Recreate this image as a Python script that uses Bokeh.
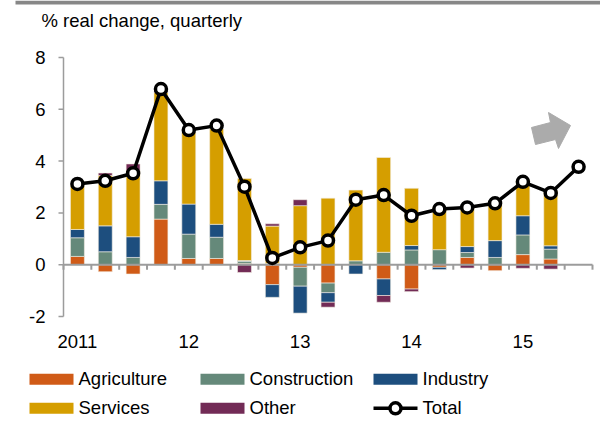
import numpy as np
from bokeh.plotting import figure
from bokeh.core.properties import value
from bokeh.embed import file_html
from bokeh.resources import INLINE

# ---------------- data ----------------
quarters = ["2011Q1", "2011Q2", "2011Q3", "2011Q4", "2012Q1", "2012Q2", "2012Q3", "2012Q4",
            "2013Q1", "2013Q2", "2013Q3", "2013Q4", "2014Q1", "2014Q2", "2014Q3", "2014Q4",
            "2015Q1", "2015Q2", "2015Q3"]
year_ticks = [0, 4, 8, 12, 16]
year_labels = ["2011", "12", "13", "14", "15"]
y_ticks = [-2, 0, 2, 4, 6, 8]
y_tick_labels = ["-2", "0", "2", "4", "6", "8"]

agriculture = [0.32, -0.27, -0.36, 1.76, 0.24, 0.24, 0.05, -0.77, -0.10, -0.71, 0.00, -0.55,
               -0.94, -0.10, 0.28, -0.23, 0.39, 0.22]
construction = [0.72, 0.50, 0.28, 0.57, 0.94, 0.82, 0.08, 0.05, -0.73, -0.37, 0.15, 0.48,
                0.57, 0.58, 0.19, 0.28, 0.76, 0.38]
industry = [0.32, 1.00, 0.80, 0.91, 1.16, 0.50, 0.03, -0.49, -1.04, -0.37, -0.36, -0.64,
            0.17, -0.09, 0.23, 0.65, 0.74, 0.13]
services = [1.70, 1.94, 2.55, 3.41, 2.77, 3.68, 3.17, 1.44, 2.28, 2.57, 2.73, 3.66,
            2.21, 1.63, 1.57, 1.52, 1.36, 2.13]
other = [0.00, 0.10, 0.26, 0.08, 0.00, 0.00, -0.30, 0.09, 0.23, -0.19, 0.00, -0.26,
         -0.10, 0.00, -0.13, 0.00, -0.14, -0.17]
total = [3.12, 3.24, 3.53, 6.78, 5.20, 5.37, 3.01, 0.26, 0.67, 0.93, 2.51, 2.69,
         1.89, 2.15, 2.21, 2.37, 3.20, 2.77, 3.78]

series_names = ["Agriculture", "Construction", "Industry", "Services", "Other"]
series_colors = ["#D05B17", "#65897A", "#1D4E7E", "#D59E00", "#722B56"]
title_text = "% real change, quarterly"

# ---------------- layout constants (page pixels) ----------------
W, H = 600, 422
FRAME_L, FRAME_R, FRAME_T, FRAME_B = 63, 592, 57, 316   # plot area of the chart
Y0, Y1 = -2, 8
GRAY = "#9C9C9C"
FONT = value("Liberation Sans")
FS = value("18.5px")

n = len(total)
nb = len(agriculture)
PX_X = (FRAME_R - FRAME_L) / n
PX_Y = (FRAME_B - FRAME_T) / (Y1 - Y0)
x_left = -0.5 - FRAME_L / PX_X
y_top = Y1 + FRAME_T / PX_Y


def X(px):
    return x_left + px / PX_X


def Y(py):
    return y_top - py / PX_Y


x = np.arange(n)
xb = np.arange(nb)
vals = np.array([agriculture, construction, industry, services, other])
pos = np.where(vals > 0, vals, 0.0)
neg = np.where(vals < 0, vals, 0.0)
pos_top = np.cumsum(pos, axis=0)
pos_bot = pos_top - pos
neg_bot = np.cumsum(neg, axis=0)
neg_top = neg_bot - neg

p = figure(width=W, height=H, x_range=(X(0), X(W)), y_range=(Y(H), Y(0)),
           x_axis_type=None, y_axis_type=None, output_backend="svg",
           toolbar_location=None, min_border=0)
p.outline_line_color = None
p.grid.visible = False

# header band (bottom edge of the cut-off chart heading)
p.quad(left=[X(15)], right=[X(W)], top=[Y(0)], bottom=[Y(4)],
       fill_color="#878787", line_color=None)

# stacked bars
for i, col in enumerate(series_colors):
    mp = pos[i] > 0
    mn = neg[i] < 0
    p.vbar(x=xb[mp], bottom=pos_bot[i][mp], top=pos_top[i][mp], width=0.5,
           fill_color=col, line_color="#F4EEE4", line_width=0.6)
    p.vbar(x=xb[mn], bottom=neg_bot[i][mn], top=neg_top[i][mn], width=0.5,
           fill_color=col, line_color="#F4EEE4", line_width=0.6)

# x axis at zero with category ticks
x_lo, x_hi = -0.5, n - 0.5
p.segment(x0=[x_lo], y0=[0], x1=[x_hi], y1=[0], line_color=GRAY, line_width=2)
bounds = np.arange(n + 1) - 0.5
tick_y = 5 / PX_Y
p.segment(x0=bounds, y0=np.zeros(n + 1), x1=bounds, y1=np.full(n + 1, -tick_y),
          line_color=GRAY, line_width=2)
p.text(x=year_ticks, y=[Y(340.5)] * len(year_ticks), text=year_labels, text_align="center",
       text_baseline="middle", text_font=FONT, text_font_size=FS, text_color="black")

# y axis
tick_x = 5 / PX_X
p.segment(x0=[x_lo], y0=[Y0], x1=[x_lo], y1=[Y1], line_color=GRAY, line_width=1.5)
p.segment(x0=[x_lo - tick_x] * len(y_ticks), y0=y_ticks, x1=[x_lo] * len(y_ticks), y1=y_ticks,
          line_color=GRAY, line_width=1.5)
p.text(x=[x_lo - 18 / PX_X] * len(y_ticks), y=y_ticks, text=y_tick_labels, text_align="right",
       text_baseline="middle", text_font=FONT, text_font_size=FS, text_color="black")

# arrow decoration (page pixel outline)
arrow_px = [(535, 144), (531, 127), (550, 122), (548, 112), (570, 125), (558, 148), (555, 139)]
p.patch([X(a) for a, b in arrow_px], [Y(b) for a, b in arrow_px],
        fill_color="#ABABAB", line_color="#ABABAB", line_width=1)

# total line
p.line(x, total, line_color="black", line_width=3.5)
p.scatter(x, total, size=11, fill_color="white", line_color="black", line_width=3.5)

# title
p.text(x=[X(41)], y=[Y(19.5)], text=[title_text], text_align="left",
       text_baseline="middle", text_font=FONT, text_font_size=FS, text_color="black")

# legend
col_x = [29, 200, 373]
row_mid = [378.8, 407.8]
row_text = [377.9, 406.9]
SW, SH, GAP = 44, 11, 5
labels = series_names + ["Total"]
lx, lm, lt = [], [], []
for k in range(len(labels)):
    r, c = divmod(k, 3)
    lx.append(col_x[c])
    lm.append(row_mid[r])
    lt.append(row_text[r])
for k, col in enumerate(series_colors):
    p.quad(left=[X(lx[k])], right=[X(lx[k] + SW)], top=[Y(lm[k] - SH / 2)],
           bottom=[Y(lm[k] + SH / 2)], fill_color=col, line_color=None)
p.line([X(lx[5]), X(lx[5] + SW)], [Y(lm[5]), Y(lm[5])], line_color="black", line_width=3.5)
p.scatter([X(lx[5] + SW / 2)], [Y(lm[5])], size=11, fill_color="white", line_color="black",
          line_width=3.5)
p.text(x=[X(v + SW + GAP) for v in lx], y=[Y(v) for v in lt], text=labels,
       text_baseline="middle", text_align="left", text_font=FONT, text_font_size=FS,
       text_color="black")

open("out.html", "w").write(file_html(p, INLINE))
